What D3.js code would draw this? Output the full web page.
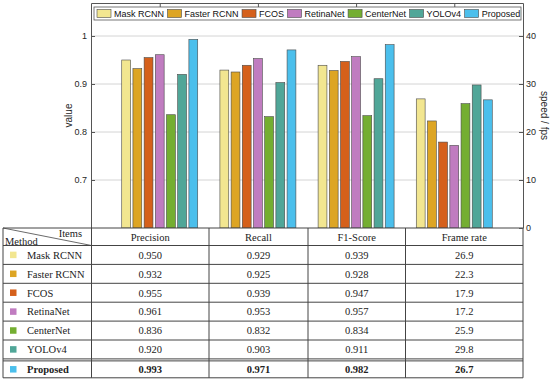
<!DOCTYPE html>
<html>
<head>
<meta charset="utf-8">
<script src="https://cdn.jsdelivr.net/npm/d3@7"></script>
<style>
  body { margin: 0; background: #fff; }
  svg { display: block; }
</style>
</head>
<body>
<div class="chart"></div>
<script>
// data
const methods = ["Mask RCNN", "Faster RCNN", "FCOS", "RetinaNet", "CenterNet", "YOLOv4", "Proposed"];
const items = ["Precision", "Recall", "F1-Score", "Frame rate"];
const precision = [0.950, 0.932, 0.955, 0.961, 0.836, 0.920, 0.993];
const recall = [0.929, 0.925, 0.939, 0.953, 0.832, 0.903, 0.971];
const f1score = [0.939, 0.928, 0.947, 0.957, 0.834, 0.911, 0.982];
const frameRate = [26.9, 22.3, 17.9, 17.2, 25.9, 29.8, 26.7];
const leftTicks = [0.7, 0.8, 0.9, 1];
const rightTicks = [0, 10, 20, 30, 40];
const colors = ["#f2e690", "#dda524", "#d5601b", "#c07cc0", "#74ae31", "#50a698", "#4bbfec"];

const W = 550, H = 383;
const plot = {left: 91, right: 523, top: 3, bottom: 228};

const svg = d3.select(".chart").append("svg")
  .attr("width", W)
  .attr("height", H)
  .style("font-family", "'Liberation Sans', Arial, sans-serif");

const x = d3.scaleLinear().domain([0.3, 4.7]).range([plot.left, plot.right]);
const yL = d3.scaleLinear().domain([0.6, 1.06875]).range([plot.bottom, plot.top]);
const yR = d3.scaleLinear().domain([0, 46.875]).range([plot.bottom, plot.top]);

// grid
svg.append("g").selectAll("line")
  .data(leftTicks)
  .join("line")
  .attr("x1", plot.left).attr("x2", plot.right)
  .attr("y1", d => yL(d)).attr("y2", d => yL(d))
  .attr("stroke", "#d4d4d4").attr("stroke-width", 1);

// bars
const series = [precision, recall, f1score, frameRate];
const step = 0.114, bw = 0.09;
const bars = [];
series.forEach((vals, g) => {
  vals.forEach((v, i) => bars.push({g: g, i: i, v: v, right: g === 3}));
});
svg.append("g").selectAll("rect")
  .data(bars)
  .join("rect")
  .attr("x", d => x(d.g + 1 + (d.i - 3) * step - bw / 2))
  .attr("width", x(bw) - x(0))
  .attr("y", d => d.right ? yR(d.v) : yL(d.v))
  .attr("height", d => plot.bottom - (d.right ? yR(d.v) : yL(d.v)))
  .attr("fill", d => colors[d.i])
  .attr("stroke", "#4a4a4a")
  .attr("stroke-width", 0.6);

// axes (MATLAB style, ticks inward)
const axisCol = "#262626";
const leftAxis = svg.append("g")
  .attr("transform", `translate(${plot.left},0)`)
  .call(d3.axisLeft(yL).tickValues(leftTicks).tickFormat(d3.format("~g")).tickSizeInner(-4).tickSizeOuter(0).tickPadding(6));
const rightAxis = svg.append("g")
  .attr("transform", `translate(${plot.right},0)`)
  .call(d3.axisRight(yR).tickValues(rightTicks).tickSizeInner(-4).tickSizeOuter(0).tickPadding(6));
const topAxis = svg.append("g")
  .attr("transform", `translate(0,${plot.top})`)
  .call(d3.axisTop(x).tickValues([1, 2, 3, 4]).tickFormat("").tickSizeInner(-4).tickSizeOuter(0));
[leftAxis, rightAxis, topAxis].forEach(a => {
  a.select(".domain").attr("stroke", "#555");
  a.selectAll(".tick line").attr("stroke", "#555");
  a.selectAll("text").attr("fill", axisCol).style("font-size", "9px")
    .style("font-family", "'Liberation Sans', Arial, sans-serif");
});
leftAxis.selectAll("text").attr("x", -4);
rightAxis.selectAll("text").attr("x", 3);

svg.append("text")
  .attr("transform", `translate(72,${(plot.top + plot.bottom) / 2}) rotate(-90)`)
  .attr("text-anchor", "middle")
  .attr("fill", axisCol)
  .style("font-size", "10px")
  .text("value");
svg.append("text")
  .attr("transform", `translate(541,${(plot.top + plot.bottom) / 2}) rotate(90)`)
  .attr("text-anchor", "middle")
  .attr("fill", axisCol)
  .style("font-size", "10px")
  .text("speed / fps");

// legend
const leg = svg.append("g");
const legBox = leg.append("rect")
  .attr("x", 94).attr("y", 7).attr("width", 427).attr("height", 13)
  .attr("fill", "#fff").attr("stroke", "#555").attr("stroke-width", 0.8);
let lx = 97;
methods.forEach((m, i) => {
  leg.append("rect")
    .attr("x", lx).attr("y", 9.5).attr("width", 14).attr("height", 8)
    .attr("fill", colors[i]).attr("stroke", "#4a4a4a").attr("stroke-width", 0.6);
  const t = leg.append("text")
    .attr("x", lx + 17).attr("y", 17)
    .attr("fill", "#111")
    .style("font-size", "9px")
    .text(m);
  lx += 17 + t.node().getComputedTextLength() + 3.5;
});

// table
const tbl = svg.append("g").style("font-family", "'Liberation Serif', 'Times New Roman', serif");
const colX = [3, 91.5, 209, 308, 405.5, 523];
const rowY = [228, 245.5];
for (let r = 0; r < methods.length; r++) rowY.push(245.5 + (r + 1) * 18.9);
const tcol = "#222";
tbl.append("rect")
  .attr("x", colX[0]).attr("y", rowY[0])
  .attr("width", colX[5] - colX[0]).attr("height", rowY[8] - rowY[0])
  .attr("fill", "#fff");
tbl.selectAll("line.h")
  .data(rowY)
  .join("line")
  .attr("class", "h")
  .attr("x1", colX[0]).attr("x2", colX[5])
  .attr("y1", d => d).attr("y2", d => d)
  .attr("stroke", "#444").attr("stroke-width", 1);
// double line above last row
tbl.append("line")
  .attr("x1", colX[0]).attr("x2", colX[5])
  .attr("y1", rowY[7] + 2).attr("y2", rowY[7] + 2)
  .attr("stroke", "#444").attr("stroke-width", 1);
tbl.selectAll("line.v")
  .data(colX)
  .join("line")
  .attr("class", "v")
  .attr("x1", d => d).attr("x2", d => d)
  .attr("y1", rowY[0]).attr("y2", rowY[8])
  .attr("stroke", "#444").attr("stroke-width", 1);
// diagonal header
tbl.append("line")
  .attr("x1", colX[0]).attr("y1", rowY[0])
  .attr("x2", colX[1]).attr("y2", rowY[1])
  .attr("stroke", "#444").attr("stroke-width", 0.8);
tbl.append("text").attr("x", 82).attr("y", 237).attr("text-anchor", "end")
  .attr("fill", tcol).style("font-size", "10.5px").text("Items");
tbl.append("text").attr("x", 5).attr("y", 244.5)
  .attr("fill", tcol).style("font-size", "10.5px").text("Method");
items.forEach((it, c) => {
  tbl.append("text")
    .attr("x", (colX[c + 1] + colX[c + 2]) / 2).attr("y", rowY[1] - 4.5)
    .attr("text-anchor", "middle")
    .attr("fill", tcol).style("font-size", "10.5px").text(it);
});
methods.forEach((m, r) => {
  const yc = (rowY[r + 1] + rowY[r + 2]) / 2 + (r === 6 ? 1 : 0);
  const bold = r === 6 ? "bold" : "normal";
  tbl.append("rect")
    .attr("x", 10).attr("y", yc - 3.3).attr("width", 6.5).attr("height", 6.5)
    .attr("fill", colors[r]);
  tbl.append("text").attr("x", 27).attr("y", yc + 3.8)
    .attr("fill", tcol).style("font-size", "10.5px").style("font-weight", bold).text(m);
  const vals = [d3.format(".3f")(precision[r]), d3.format(".3f")(recall[r]),
                d3.format(".3f")(f1score[r]), d3.format(".1f")(frameRate[r])];
  vals.forEach((v, c) => {
    tbl.append("text")
      .attr("x", (colX[c + 1] + colX[c + 2]) / 2).attr("y", yc + 3.8)
      .attr("text-anchor", "middle")
      .attr("fill", tcol).style("font-size", "10.5px").style("font-weight", bold).text(v);
  });
});
// right axis zero label sits just below the plot
rightAxis.raise();
</script>
</body>
</html>
